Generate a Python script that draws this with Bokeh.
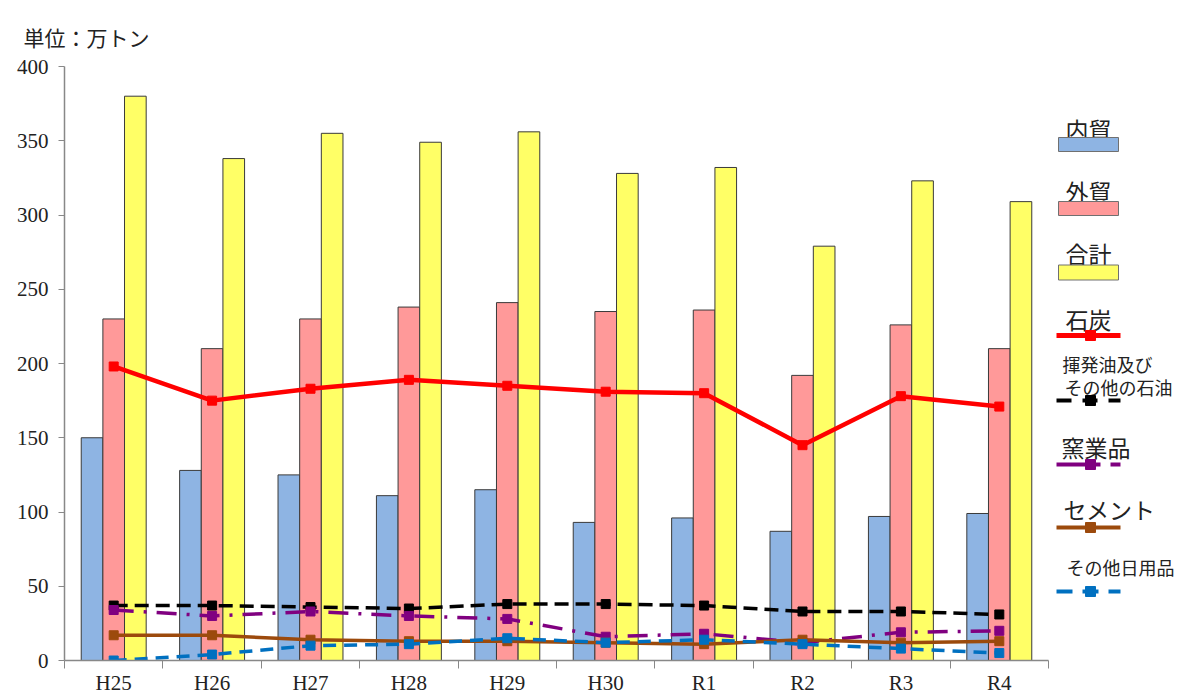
from bokeh.plotting import figure
from bokeh.layouts import row
from bokeh.models import Range1d, FixedTicker
from bokeh.core.properties import value
from bokeh.embed import file_html
from bokeh.resources import INLINE

# ---- data ----
years = ["H25", "H26", "H27", "H28", "H29", "H30", "R1", "R2", "R3", "R4"]
domestic = [150, 128, 125, 111, 115, 93, 96, 87, 97, 99]      # 内貿
foreign = [230, 210, 230, 238, 241, 235, 236, 192, 226, 210]  # 外貿
total = [380, 338, 355, 349, 356, 328, 332, 279, 323, 309]    # 合計
coal = [198, 175, 183, 189, 185, 181, 180, 145, 178, 171]     # 石炭
oil = [37, 37, 36, 35, 38, 38, 37, 33, 33, 31]                # 揮発油及びその他の石油
ceramics = [34, 30, 33, 30, 28, 16, 18, 12, 19, 20]           # 窯業品
cement = [17, 17, 14, 13, 13, 12, 11, 14, 12, 13]             # セメント
daily = [0, 4, 10, 11, 15, 12, 14, 11, 8, 5]                  # その他日用品
y_ticks = [0, 50, 100, 150, 200, 250, 300, 350, 400]

JPN = "Noto Sans CJK JP"
JP = value(JPN)
SERIF = "Liberation Serif"

xc = [i + 0.5 for i in range(len(years))]
W1, H = 1051, 698
FRAME_TOP, FRAME_BOTTOM = 68, 662   # page pixel rows of the frame (used by legend panel)

p = figure(width=W1, height=H, x_range=Range1d(0, len(years)), y_range=Range1d(0, 400),
           toolbar_location=None, output_backend="svg",
           min_border_left=64, min_border_right=3, min_border_top=66, min_border_bottom=38)
p.outline_line_color = None
p.xgrid.grid_line_color = None
p.ygrid.grid_line_color = None

p.title.text = "単位：万トン"
p.title.text_font = JPN
p.title.text_font_size = "21px"
p.title.text_font_style = "normal"
p.title.text_color = "#222222"
p.title.align = "left"
p.title.offset = -41
p.title.standoff = 30

bw = 0.22
bar_styles = [
    (domestic, -bw, "#8EB4E3"),
    (foreign, 0.0, "#FF9999"),
    (total, bw, "#FFFF66"),
]
for vals, off, col in bar_styles:
    p.vbar(x=[x + off for x in xc], top=vals, bottom=0, width=bw,
           fill_color=col, line_color="#3a3a3a", line_width=1)

# (values, colour, width, series dash, legend dash)
line_styles = [
    (coal, "#FF0000", 4.5, "solid", "solid"),
    (oil, "#000000", 3.5, "14 7", "15 11"),
    (ceramics, "#800080", 3.5, "20 10 3 10", "44 10"),
    (cement, "#9C4A0C", 3.5, "solid", "solid"),
    (daily, "#0070C0", 3.5, "13 8", "16 10"),
]
for vals, col, lw, dash, _ in line_styles:
    p.line(xc, vals, line_color=col, line_width=lw, line_dash=dash)
    p.scatter(xc, vals, marker="square", size=9, fill_color=col, line_color=col)

# axes
p.xaxis.ticker = FixedTicker(ticks=xc, minor_ticks=list(range(len(years) + 1)))
p.xaxis.major_label_overrides = {x: y for x, y in zip(xc, years)}
p.xaxis.major_tick_out = 0
p.xaxis.major_tick_in = 0
p.xaxis.minor_tick_out = 8
p.xaxis.minor_tick_in = 0
p.xaxis.minor_tick_line_color = "#888888"
p.xaxis.major_label_standoff = 2
p.yaxis.ticker = FixedTicker(ticks=y_ticks)
p.yaxis.major_tick_out = 6
p.yaxis.major_tick_in = 0
p.yaxis.minor_tick_line_color = None
p.yaxis.major_label_standoff = 10
for ax in (p.xaxis, p.yaxis):
    ax.axis_line_color = "#888888"
    ax.axis_line_width = 1.5
    ax.major_tick_line_color = "#888888"
    ax.major_label_text_font = SERIF
    ax.major_label_text_font_size = "21px"
    ax.major_label_text_color = "#222222"

# ---- legend panel (its frame is aligned with the main frame; data units = page pixels) ----
W2 = 128
LX0 = 1053
lg = figure(width=W2, height=H, x_range=Range1d(LX0, LX0 + W2),
            y_range=Range1d(FRAME_BOTTOM, FRAME_TOP),
            toolbar_location=None, output_backend="svg", min_border=0)
lg.axis.visible = False
lg.grid.visible = False
lg.outline_line_color = None

box_items = [("内貿", 130, 146, 14, "#8EB4E3"),
             ("外貿", 192, 210, 14, "#FF9999"),
             ("合計", 254, 274, 15, "#FFFF66")]
for label, ty, ry, rh, col in box_items:
    lg.text(x=[1067], y=[ty], text=[label], text_font=JP, text_font_size="23px",
            text_baseline="middle", text_color="#222222")
    lg.rect(x=[1090], y=[ry], width=60, height=rh, fill_color=col,
            line_color="#707070", line_width=1)

line_items = [
    (["石炭"], [1067], [320], "23px", 337, 0),
    (["揮発油及び", "その他の石油"], [1064, 1066], [365, 388], "18px", 402, 1),
    (["窯業品"], [1063], [448], "23px", 466, 2),
    (["セメント"], [1065], [510], "23px", 529, 3),
    (["その他日用品"], [1068], [568], "18px", 593, 4),
]
for texts, txs, tys, fs, ly, idx in line_items:
    _, col, lw, _, ldash = line_styles[idx]
    for t, tx, ty in zip(texts, txs, tys):
        lg.text(x=[tx], y=[ty], text=[t], text_font=JP, text_font_size=fs,
                text_baseline="middle", text_color="#222222")
    lg.line(x=[1058, 1122], y=[ly, ly], line_color=col, line_width=lw + 0.5, line_dash=ldash)
    lg.scatter(x=[1092], y=[ly], marker="square", size=10, fill_color=col, line_color=col)

layout = row(p, lg, spacing=0)
open("out.html", "w").write(file_html(layout, INLINE))
